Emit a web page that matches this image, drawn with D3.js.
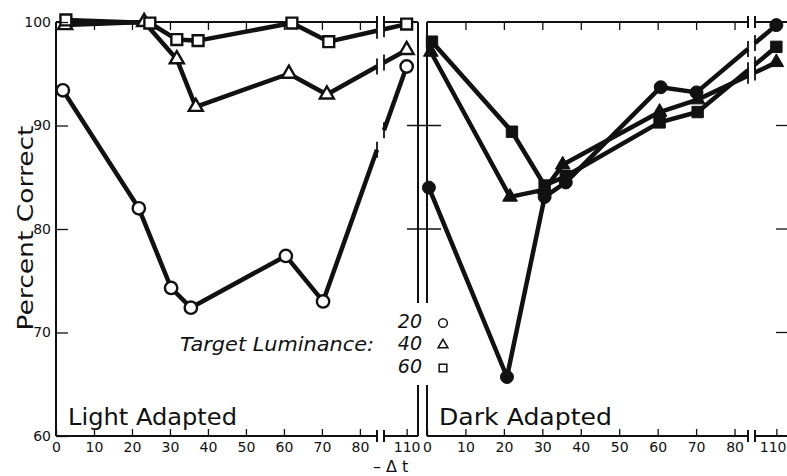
<!DOCTYPE html>
<html>
<head>
<meta charset="utf-8">
<script src="https://cdn.jsdelivr.net/npm/d3@7"></script>
<style>
  body { margin: 0; background: #fff; }
  svg { display: block; }
  text { font-family: "DejaVu Sans", sans-serif; fill: #111; }
</style>
</head>
<body>
<svg id="chart" width="787" height="476"></svg>
<script>
// values: -dt on x, percent correct on y

// light adapted (open symbols)
const lightX20 = [1.8, 21.8, 30.3, 35.5, 60.5, 70.3, 110];
const lightY20 = [93.4, 82.0, 74.3, 72.4, 77.4, 73.0, 95.7];
const lightX40 = [2.4, 23.2, 31.8, 36.8, 61.3, 71.3, 110];
const lightY40 = [99.7, 100, 96.4, 91.8, 95.0, 93.0, 97.3];
const lightX60 = [2.6, 24.7, 31.8, 37.4, 62.1, 71.8, 110];
const lightY60 = [100.2, 99.9, 98.3, 98.2, 99.9, 98.1, 99.8];

// dark adapted (filled symbols)
const darkX20 = [0.5, 20.8, 30.6, 36.1, 60.8, 70.1, 110];
const darkY20 = [84.0, 65.7, 83.1, 84.5, 93.7, 93.2, 99.7];
const darkX40 = [1.0, 21.6, 30.6, 35.3, 60.5, 70.4, 110];
const darkY40 = [97.1, 83.1, 83.8, 86.2, 91.3, 92.5, 96.1];
const darkX60 = [1.3, 22.1, 30.6, 36.1, 60.5, 70.4, 110];
const darkY60 = [98.1, 89.4, 84.2, 85.1, 90.3, 91.3, 97.6];

const xTicks = [0, 10, 20, 30, 40, 50, 60, 70, 80, 110];
const topTicks = [10, 20, 30, 40, 50, 60, 70, 80];
const yTicks = [60, 70, 80, 90, 100];
const lumLevels = ["20", "40", "60"];
const lumShapes = ["circle", "triangle", "square"];

const svg = d3.select("#chart");

const y = d3.scaleLinear().domain([60, 100]).range([436, 22]);
// broken x axis: 0..~84 then a jump to 110
const xLight = d3.scaleLinear().domain([0, 84.5, 104, 113]).range([56, 377, 384, 418]);
const xDark = d3.scaleLinear().domain([0, 83.5, 104.5, 113]).range([427, 748, 755, 788]);

const symType = { circle: d3.symbolCircle, triangle: d3.symbolTriangle, square: d3.symbolSquare };
const symSize = { circle: 120, triangle: 85, square: 118 };

function zip(xs, ys) { return xs.map((d, i) => [d, ys[i]]); }

const lightSeries = [
  { shape: "circle", pts: zip(lightX20, lightY20) },
  { shape: "triangle", pts: zip(lightX40, lightY40) },
  { shape: "square", pts: zip(lightX60, lightY60) }
];
const darkSeries = [
  { shape: "circle", pts: zip(darkX20, darkY20) },
  { shape: "triangle", pts: zip(darkX40, darkY40) },
  { shape: "square", pts: zip(darkX60, darkY60) }
];

function drawPanel(x, series, filled, brk, label) {
  const g = svg.append("g");
  const x0 = x(0), x1 = x(113), bl = x(brk[0]), br = x(brk[1]);
  const top = y(100), bot = y(60);

  // frame, with gaps at the axis break
  const frame = g.append("g").attr("stroke", "#111").attr("stroke-width", 2).attr("fill", "none");
  [top, bot].forEach(yy => {
    frame.append("line").attr("x1", x0).attr("x2", bl).attr("y1", yy).attr("y2", yy);
    frame.append("line").attr("x1", br).attr("x2", x1).attr("y1", yy).attr("y2", yy);
    [bl, br].forEach(xx => frame.append("line").attr("x1", xx).attr("x2", xx)
      .attr("y1", yy - 6).attr("y2", yy + 6));
  });
  frame.append("line").attr("x1", x0).attr("x2", x0).attr("y1", top).attr("y2", bot);
  frame.append("line").attr("x1", x1).attr("x2", x1).attr("y1", top).attr("y2", bot);

  // bottom axis with labels, ticks pointing up
  const xb = g.append("g").attr("transform", `translate(0,${bot})`)
    .call(d3.axisBottom(x).tickValues(xTicks).tickSizeInner(-7).tickSizeOuter(0).tickPadding(6));
  xb.select(".domain").remove();
  xb.selectAll("line").attr("stroke", "#111").attr("stroke-width", 1.3);
  xb.selectAll("text").attr("font-size", 14).style("font-family", "DejaVu Sans");
  // keep the last label inside the picture
  if (x(113) > 787) {
    xb.selectAll("text").filter(d => d === 110).attr("text-anchor", "end").attr("x", 786 - x(110));
  }

  // top axis, ticks pointing down
  const xt = g.append("g").attr("transform", `translate(0,${top})`)
    .call(d3.axisTop(x).tickValues(topTicks).tickSizeInner(-8).tickSizeOuter(0).tickFormat(""));
  xt.select(".domain").remove();
  xt.selectAll("line").attr("stroke", "#111").attr("stroke-width", 1.3);

  // lines, broken across the gap
  const line = d3.line();
  series.forEach(s => {
    const p = s.pts.map(d => [x(d[0]), y(d[1])]);
    const a = p[p.length - 2], b = p[p.length - 1];
    const at = xx => a[1] + (b[1] - a[1]) * (xx - a[0]) / (b[0] - a[0]);
    const left = p.slice(0, -1).concat([[bl, at(bl)]]);
    const right = [[br, at(br)], b];
    [left, right].forEach(seg => g.append("path").attr("d", line(seg))
      .attr("fill", "none").attr("stroke", "#111").attr("stroke-width", 4.5)
      .attr("stroke-linejoin", "round"));
    [bl, br].forEach(xx => g.append("line").attr("x1", xx).attr("x2", xx)
      .attr("y1", at(xx) - 8).attr("y2", at(xx) + 8)
      .attr("stroke", "#111").attr("stroke-width", 1.8));
  });

  // markers
  series.forEach(s => {
    g.selectAll(null).data(s.pts).join("path")
      .attr("transform", d => `translate(${x(d[0])},${y(d[1])})`)
      .attr("d", d3.symbol(symType[s.shape], symSize[s.shape] * (filled ? 1.1 : 1)))
      .attr("fill", filled ? "#111" : "#fff")
      .attr("stroke", "#111").attr("stroke-width", filled ? 1 : 2.4);
  });

  g.append("text").attr("x", x0 + 12).attr("y", 425)
    .attr("font-size", 23).attr("textLength", label.len).attr("lengthAdjust", "spacingAndGlyphs")
    .text(label.text);
  return g;
}

drawPanel(xLight, lightSeries, false, [84.5, 104], { text: "Light Adapted", len: 169 });
drawPanel(xDark, darkSeries, true, [83.5, 104.5], { text: "Dark Adapted", len: 173 });

// y axis on the left
const ya = svg.append("g").attr("transform", `translate(${xLight(0)},0)`)
  .call(d3.axisLeft(y).tickValues(yTicks).tickSizeInner(-12).tickSizeOuter(0).tickPadding(5));
ya.select(".domain").remove();
ya.selectAll("line").attr("stroke", "#111").attr("stroke-width", 1.3);
ya.selectAll("text").attr("font-size", 14).style("font-family", "DejaVu Sans");

// ticks across the gap between panels and on the right edge
[80, 90].forEach(v => svg.append("line")
  .attr("x1", xLight(113) - 11).attr("x2", xDark(0) + 14)
  .attr("y1", y(v)).attr("y2", y(v)).attr("stroke", "#111").attr("stroke-width", 1.3));
[70, 80, 90].forEach(v => svg.append("line")
  .attr("x1", 776).attr("x2", 787)
  .attr("y1", y(v)).attr("y2", y(v)).attr("stroke", "#111").attr("stroke-width", 1.3));

// axis titles
svg.append("text").attr("transform", "translate(33,228) rotate(-90)")
  .attr("text-anchor", "middle").attr("font-size", 22)
  .attr("textLength", 205).attr("lengthAdjust", "spacingAndGlyphs")
  .text("Percent Correct");
svg.append("text").attr("x", 373).attr("y", 471.5).attr("font-size", 16).text("– Δ t");

// legend, on a white patch over the panel gap
svg.append("rect").attr("x", 390).attr("y", 303).attr("width", 66).attr("height", 82).attr("fill", "#fff");
svg.append("text").attr("x", 180).attr("y", 351).attr("font-size", 19)
  .attr("font-style", "italic").attr("textLength", 194).attr("lengthAdjust", "spacingAndGlyphs")
  .text("Target Luminance:");
const legRows = [328, 350, 373];
lumLevels.forEach((lv, i) => {
  svg.append("text").attr("x", 422).attr("y", legRows[i]).attr("text-anchor", "end")
    .attr("font-size", 19).attr("font-style", "italic").text(lv);
  svg.append("path").attr("transform", `translate(443,${legRows[i] - 5})`)
    .attr("d", d3.symbol(symType[lumShapes[i]], symSize[lumShapes[i]] * 0.5))
    .attr("fill", "#fff").attr("stroke", "#111").attr("stroke-width", 1.5);
});
</script>
</body>
</html>
